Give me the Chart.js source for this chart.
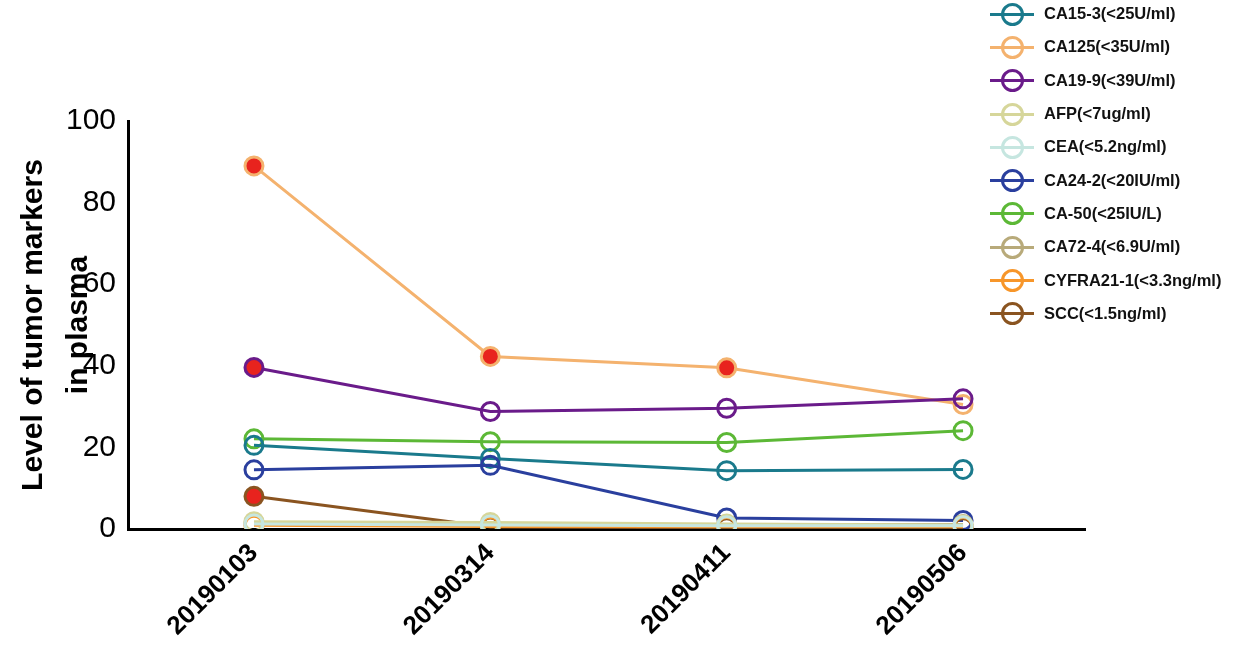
<!DOCTYPE html>
<html><head><meta charset="utf-8">
<script src="https://cdn.jsdelivr.net/npm/chart.js@4"></script>
<style>
body{margin:0;background:#fff;font-family:Arial,"Liberation Sans",sans-serif}
#wrap{position:relative;width:1250px;height:661px}
#legend{position:absolute;left:990px;top:-3px}
.li{height:33.3px;display:flex;align-items:center;font-weight:bold;font-size:16.5px;color:#111}
.sw{position:relative;width:44px;height:24px;margin-right:10px}
.sw .ln{position:absolute;left:0;right:0;top:11px;height:3px}
.sw .c{position:absolute;left:11px;top:1px;width:17px;height:17px;border-radius:50%;border:3px solid;background:transparent}
</style></head><body>
<div id="wrap"><canvas id="c" width="1250" height="661"></canvas><div id="legend"></div></div>
<script>
const categories=["20190103","20190314","20190411","20190506"];
const names=["CA15-3(<25U/ml)","CA125(<35U/ml)","CA19-9(<39U/ml)","AFP(<7ug/ml)","CEA(<5.2ng/ml)","CA24-2(<20IU/ml)","CA-50(<25IU/L)","CA72-4(<6.9U/ml)","CYFRA21-1(<3.3ng/ml)","SCC(<1.5ng/ml)"];
const colors=["#1a7a8c","#f4b26e","#6a1b8a","#d6d69a","#c6e6e0","#2a3f9e","#5cb836","#b8aa7a","#f7962a","#8a5420"];
const limits=[25,35,39,7,5.2,20,25,6.9,3.3,1.5];
const ca153=[20.5,17.3,14.3,14.6];
const ca125=[89,42.3,39.5,30.5];
const ca199=[39.6,28.8,29.6,31.9];
const afp=[1.8,1.6,1.2,1.0];
const cea=[1.2,1.0,0.8,0.8];
const ca242=[14.5,15.6,2.7,2.1];
const ca50=[22.1,21.4,21.2,24.1];
const ca724=[1.5,1.2,1.0,1.1];
const cyfra=[0.9,0.6,0.6,0.6];
const scc=[8.0,0.5,0.3,0.3];
const series=[ca153,ca125,ca199,afp,cea,ca242,ca50,ca724,cyfra,scc];
const yTicks=[0,20,40,60,80,100];
const yTitle=["Level of tumor markers","in plasma"];

const order=[4,3,7,8,9,5,0,6,2,1];
const datasets=order.map(i=>({
  label:names[i],
  data:series[i].map((v,k)=>({x:k,y:v})),
  borderColor:colors[i],
  pointBorderColor:colors[i],
  pointBackgroundColor:series[i].map(v=>v>limits[i]?"#e8231e":"rgba(255,255,255,0)"),
  borderWidth:3,pointRadius:9,pointBorderWidth:3,tension:0
}));
const titlePlugin={id:'yt',afterDraw(ch){
  const c=ch.ctx,a=ch.chartArea,cy=(a.top+a.bottom)/2;
  c.save();c.fillStyle='#000';c.font='bold 30px Arial';c.textAlign='center';c.textBaseline='middle';
  c.translate(0,cy);c.rotate(-Math.PI/2);
  c.fillText(yTitle[0],0,34);c.fillText(yTitle[1],0,79);c.restore();}};
new Chart(document.getElementById('c'),{
  type:'line',data:{datasets},plugins:[titlePlugin],
  options:{responsive:false,animation:false,
    layout:{padding:{top:121,right:165,left:0,bottom:0}},
    plugins:{legend:{display:false},tooltip:{enabled:false}},
    scales:{
      x:{type:'linear',min:-0.533,max:3.516,grid:{display:false,drawTicks:true,tickLength:6,color:'#000'},
        border:{color:'#000',width:3},
        afterBuildTicks:a=>{a.ticks=categories.map((c,i)=>({value:i}));},
        afterFit:a=>{a.height=132;},
        ticks:{color:'#000',font:{size:26,weight:'bold',family:'Arial'},minRotation:45,maxRotation:45,
          callback:v=>categories[v]}},
      y:{min:0,max:100,grid:{display:false,tickLength:8,color:'#000'},border:{color:'#000',width:3},
        afterBuildTicks:a=>{a.ticks=yTicks.map(v=>({value:v}));},
        afterFit:a=>{a.width=128;},
        ticks:{color:'#000',font:{size:30,family:'Arial'},padding:4}}
    }}
});
const lg=document.getElementById('legend');
names.forEach((n,i)=>{lg.innerHTML+=`<div class="li"><div class="sw"><div class="ln" style="background:${colors[i]}"></div><div class="c" style="border-color:${colors[i]}"></div></div>${n}</div>`;});
</script></body></html>
